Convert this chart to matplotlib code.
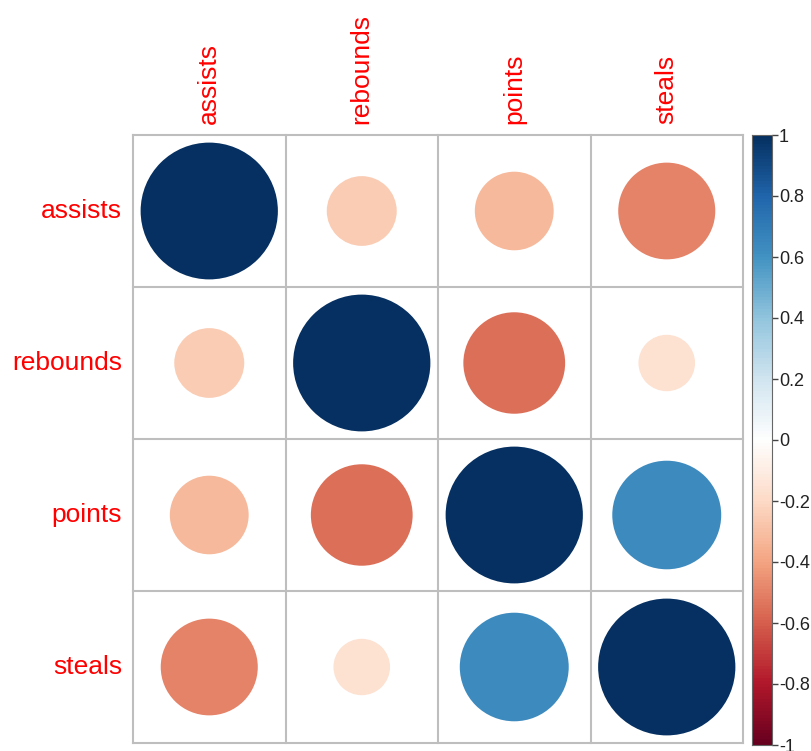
import numpy as np
import matplotlib
matplotlib.use("Agg")
import matplotlib.pyplot as plt
from matplotlib.colors import LinearSegmentedColormap
from matplotlib.patches import Circle

plt.rcParams['font.family'] = ['Liberation Sans', 'DejaVu Sans']

variables = ["assists", "rebounds", "points", "steals"]
corr = np.array([
    [1.00, -0.26, -0.33, -0.50],
    [-0.26, 1.00, -0.55, -0.17],
    [-0.33, -0.55, 1.00, 0.63],
    [-0.50, -0.17, 0.63, 1.00],
])
cbar_ticks = [-1, -0.8, -0.6, -0.4, -0.2, 0, 0.2, 0.4, 0.6, 0.8, 1]
rdbu = ["#67001F", "#B2182B", "#D6604D", "#F4A582", "#FDDBC7", "#FFFFFF",
        "#D1E5F0", "#92C5DE", "#4393C3", "#2166AC", "#053061"]
cmap = LinearSegmentedColormap.from_list("corr", rdbu, N=200)

W, H = 811, 751
fig = plt.figure(figsize=(W / 100, H / 100), dpi=100)

# main grid axes in pixel coords
L, R, T, B = 133, 743, 135, 743
ax = fig.add_axes([L / W, 1 - B / H, (R - L) / W, (B - T) / H])
n = len(variables)
ax.set_xlim(0, n)
ax.set_ylim(n, 0)
ax.set_aspect('auto')
for s in ax.spines.values():
    s.set_visible(False)
ax.set_xticks([])
ax.set_yticks([])
for k in range(n + 1):
    ax.plot([k, k], [0, n], color="#BEBEBE", lw=1.5, zorder=1, clip_on=False)
    ax.plot([0, n], [k, k], color="#BEBEBE", lw=1.5, zorder=1, clip_on=False)

norm = plt.Normalize(-1, 1)
for i in range(n):
    for j in range(n):
        v = corr[i, j]
        r = 0.9 * np.sqrt(abs(v)) / 2
        ax.add_patch(Circle((j + 0.5, i + 0.5), r, facecolor=cmap(norm(v)),
                            edgecolor='none', zorder=2))

for k, name in enumerate(variables):
    ax.text(k + 0.5, -0.07, name, rotation=90, ha='center', va='bottom',
            color='red', fontsize=19)
    ax.text(-0.07, k + 0.5, name, ha='right', va='center',
            color='red', fontsize=19)

# colorbar
cax = fig.add_axes([752 / W, 1 - 745 / H, 20 / W, 610 / H])
grad = np.linspace(-1, 1, 200).reshape(-1, 1)
cax.imshow(grad, cmap=cmap, norm=norm, aspect='auto', origin='lower',
           extent=[0, 1, -1, 1])
cax.set_xlim(0, 1)
cax.set_ylim(-1, 1)
cax.set_xticks([])
cax.yaxis.tick_right()
cax.set_yticks(cbar_ticks)
cax.set_yticklabels([f"{t:g}" for t in cbar_ticks])
cax.tick_params(axis='y', length=4, width=1, color='#444444', labelsize=13,
                pad=1, labelcolor='#222222')
for s in cax.spines.values():
    s.set_color('#666666')
    s.set_linewidth(0.8)

fig.savefig("out.png", dpi=100, facecolor='white')
